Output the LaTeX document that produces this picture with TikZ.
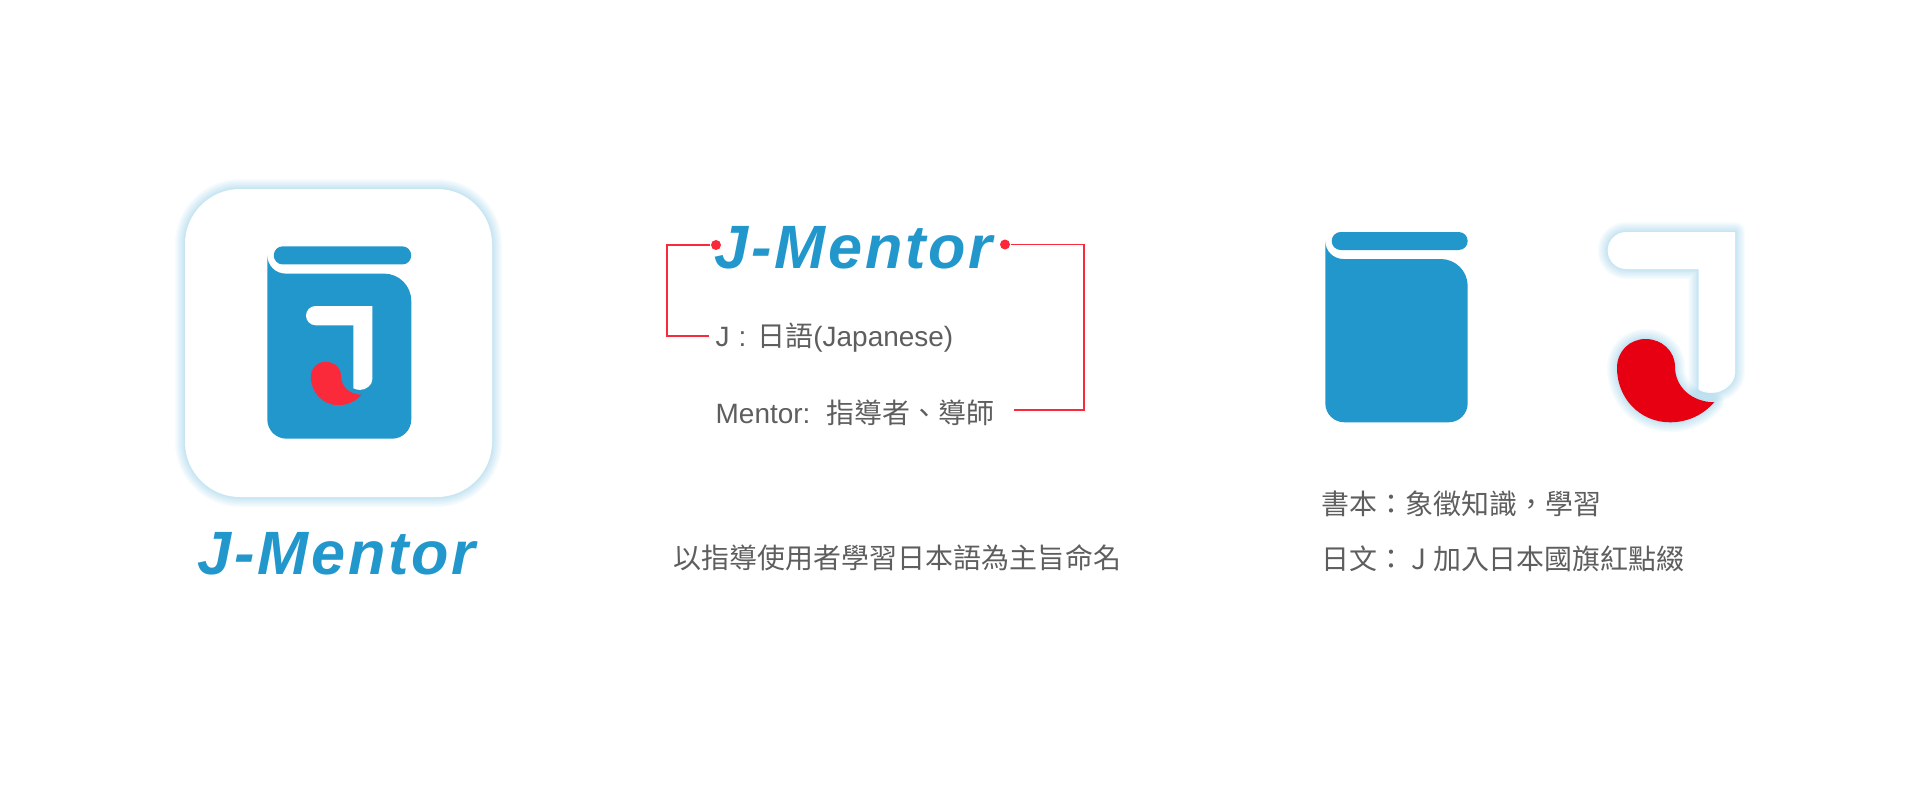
\documentclass[tikz,border=0pt]{standalone}
\usepackage{fontspec}
\setmainfont{Liberation Sans}
\newfontfamily\cjk{Noto Sans CJK TC}
\newfontfamily\logofont[LetterSpace=4.5]{Liberation Sans}
\usetikzlibrary{positioning}

\definecolor{jblue}{HTML}{2297CC}
\definecolor{jred}{HTML}{FB2A3B}
\definecolor{flagred}{HTML}{E60012}
\definecolor{jgray}{HTML}{5E5E5E}

\tikzset{
  logotext/.style = {anchor=base west, inner sep=0pt, text=jblue,
    font=\logofont\bfseries\itshape\fontsize{17.4}{20}\selectfont},
  bodytext/.style = {anchor=base west, inner sep=0pt, text=jgray,
    font=\fontsize{7.95}{10}\selectfont},
  leader/.style   = {draw=jred, line width=0.55pt},
  reddot/.style   = {circle, fill=jred, inner sep=0pt, minimum size=1mm},
  glow/.style     = {draw=jblue, draw opacity=0.04, line join=round}
}

% paths of the two marks, in pixels from their top left corner
\def\bookbar{(15.4,0) -- (133.4,0) .. controls (138.4,0) and (142.4,4) .. (142.4,9)
  .. controls (142.4,14) and (138.4,18) .. (133.4,18) -- (15.4,18)
  .. controls (10.4,18) and (6.4,14) .. (6.4,9)
  .. controls (6.4,4) and (10.4,0) .. (15.4,0) -- cycle}
\def\bookbody{(0,9) .. controls (0,19) and (8,27) .. (18,27) -- (115.4,27)
  .. controls (130.3,27) and (142.4,39) .. (142.4,54) -- (142.4,171.3)
  .. controls (142.4,181.8) and (133.9,190.3) .. (123.4,190.3) -- (19,190.3)
  .. controls (8.5,190.3) and (0,181.8) .. (0,171.3) -- cycle}
\def\jstem{(18.5,0) -- (127.3,0) -- (127.3,141)
  .. controls (127.3,152) and (115,161) .. (104,161)
  .. controls (99,161) and (95,160) .. (91,158) -- (91,37) -- (18.5,37)
  .. controls (8.3,37) and (0,28.7) .. (0,18.5)
  .. controls (0,8.3) and (8.3,0) .. (18.5,0) -- cycle}
\def\jdrop{(9.3,136) .. controls (9.3,119) and (22,107) .. (38,107)
  .. controls (54,107) and (67.3,119) .. (67.3,134.7)
  .. controls (67.3,155) and (84,170) .. (106.6,170.3)
  .. controls (95,183) and (80,190.3) .. (62.3,190.3)
  .. controls (32,190.3) and (9.3,166) .. (9.3,136) -- cycle}

\begin{document}
\begin{tikzpicture}[x=0.01cm, y=-0.01cm]
  \useasboundingbox (0,0) rectangle (1920,800);

  % app icon
  \def\iconbox{(185,189) rectangle (492,497)}
  \foreach \w in {20,17,14,11,8,5,3}
    \draw[glow, line width=\w*0.01cm, rounded corners=5.5mm] \iconbox;
  \fill[white, rounded corners=5.5mm] \iconbox;
  \begin{scope}[shift={(267.3,246.3)}, scale=1.011]
    \fill[jblue] \bookbar;
    \fill[jblue] \bookbody;
  \end{scope}
  \begin{scope}[shift={(306,306)}, scale=0.521]
    \fill[white] \jstem;
    \fill[jred] \jdrop;
  \end{scope}
  \node[logotext] (iconname) at (197,574) {J-Mentor};

  % name and its two parts
  \node[logotext] (name) at (714,268) {J-Mentor};
  \node[reddot] (jdot) at (716,245) {};
  \node[reddot] (mdot) at (1005,244.5) {};
  \node[bodytext] (jpart) at (715,346) {J\hspace{0.9mm}:\hspace{1.1mm}{\cjk 日語}(Japanese)};
  \node[bodytext] (mpart) at (715,423) {Mentor:\hspace{0.55mm} {\cjk 指導者、導師}};
  \coordinate (jbend) at (666.7,336.3);
  \coordinate (jend) at (709.3,336.3);
  \coordinate (mbend) at (1084.3,410.3);
  \coordinate (mend) at (1013.7,410.3);
  \draw[leader] (jdot) -| (jbend) -- (jend);
  \draw[leader] (mdot) -| (mbend) -- (mend);
  \node[bodytext] (naming) at (673,568) {\cjk 以指導使用者學習日本語為主旨命名};

  % book and J
  \begin{scope}[shift={(1325.3,232)}]
    \fill[jblue] \bookbar;
    \fill[jblue] \bookbody;
  \end{scope}
  \begin{scope}[shift={(1607.7,232)}]
    \foreach \w in {20,17,14,11,8,5,3}
      \draw[glow, line width=\w*0.01cm] \jstem;
    \fill[white] \jstem;
    \foreach \w in {20,17,14,11,8,5,3}
      \draw[glow, line width=\w*0.01cm] \jdrop;
    \fill[flagred] \jdrop;
  \end{scope}
  \node[bodytext] (bookline) at (1321,514.6) {\cjk 書本：象徵知識，學習};
  \node[bodytext] (jline) at (1321,569) {\cjk 日文： J 加入日本國旗紅點綴};
\end{tikzpicture}
\end{document}
